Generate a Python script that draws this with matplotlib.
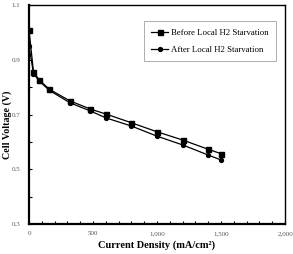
import matplotlib
matplotlib.use("Agg")
import matplotlib.pyplot as plt
from matplotlib.ticker import MultipleLocator, FixedLocator, FuncFormatter

plt.rcParams['font.family'] = ['Liberation Serif', 'DejaVu Serif']

# current density (mA/cm2)
current = [0, 35, 80, 160, 320, 480, 600, 800, 1000, 1200, 1400, 1500]
# cell voltage (V)
v_before = [1.009, 0.856, 0.826, 0.792, 0.750, 0.720, 0.702, 0.670, 0.637, 0.607, 0.573, 0.557]
v_after = [0.951, 0.850, 0.822, 0.788, 0.743, 0.713, 0.688, 0.658, 0.621, 0.589, 0.552, 0.534]
y_ticks = [0.3, 0.5, 0.7, 0.9, 1.1]

fig = plt.figure(figsize=(2.93, 2.54), dpi=100)
ax = fig.add_axes([0.099, 0.118, 0.874, 0.862])

ax.plot(current, v_before, color='black', lw=0.9, marker='s', ms=3.6,
        label='Before Local H2 Starvation')
ax.plot(current, v_after, color='black', lw=0.9, marker='o', ms=2.8,
        label='After Local H2 Starvation')

ax.set_xlim(0, 2000)
ax.set_ylim(0.3, 1.1)
ax.xaxis.set_major_locator(MultipleLocator(500))
ax.xaxis.set_minor_locator(MultipleLocator(100))
ax.yaxis.set_major_locator(FixedLocator(y_ticks))
ax.yaxis.set_minor_locator(MultipleLocator(0.1))
ax.xaxis.set_major_formatter(FuncFormatter(lambda v, p: f'{int(v):,}'))
ax.yaxis.set_major_formatter(FuncFormatter(lambda v, p: f'{v:.1f}'))

ax.tick_params(which='both', direction='in', length=2, width=0.8,
               labelsize=5, labelcolor='#555555')
ax.tick_params(axis='x', pad=5)
ax.tick_params(axis='y', pad=6)

for s in ax.spines.values():
    s.set_linewidth(1.0)
ax.spines['left'].set_linewidth(1.6)
ax.spines['bottom'].set_linewidth(1.6)

ax.set_xlabel('Current Density (mA/cm²)', fontsize=7.5, fontweight='bold')
ax.set_ylabel('Cell Voltage (V)', fontsize=7.2, fontweight='bold')
ax.xaxis.set_label_coords(0.5, -0.075)
ax.yaxis.set_label_coords(-0.068, 0.452)

leg = ax.legend(loc='upper right', bbox_to_anchor=(0.98, 0.945), fontsize=6.3,
                frameon=True, fancybox=False, edgecolor='#888888',
                handlelength=2.0, borderpad=0.8, labelspacing=1.1,
                handletextpad=0.3)
leg.get_frame().set_linewidth(0.6)

fig.savefig('out.png', dpi=100)
